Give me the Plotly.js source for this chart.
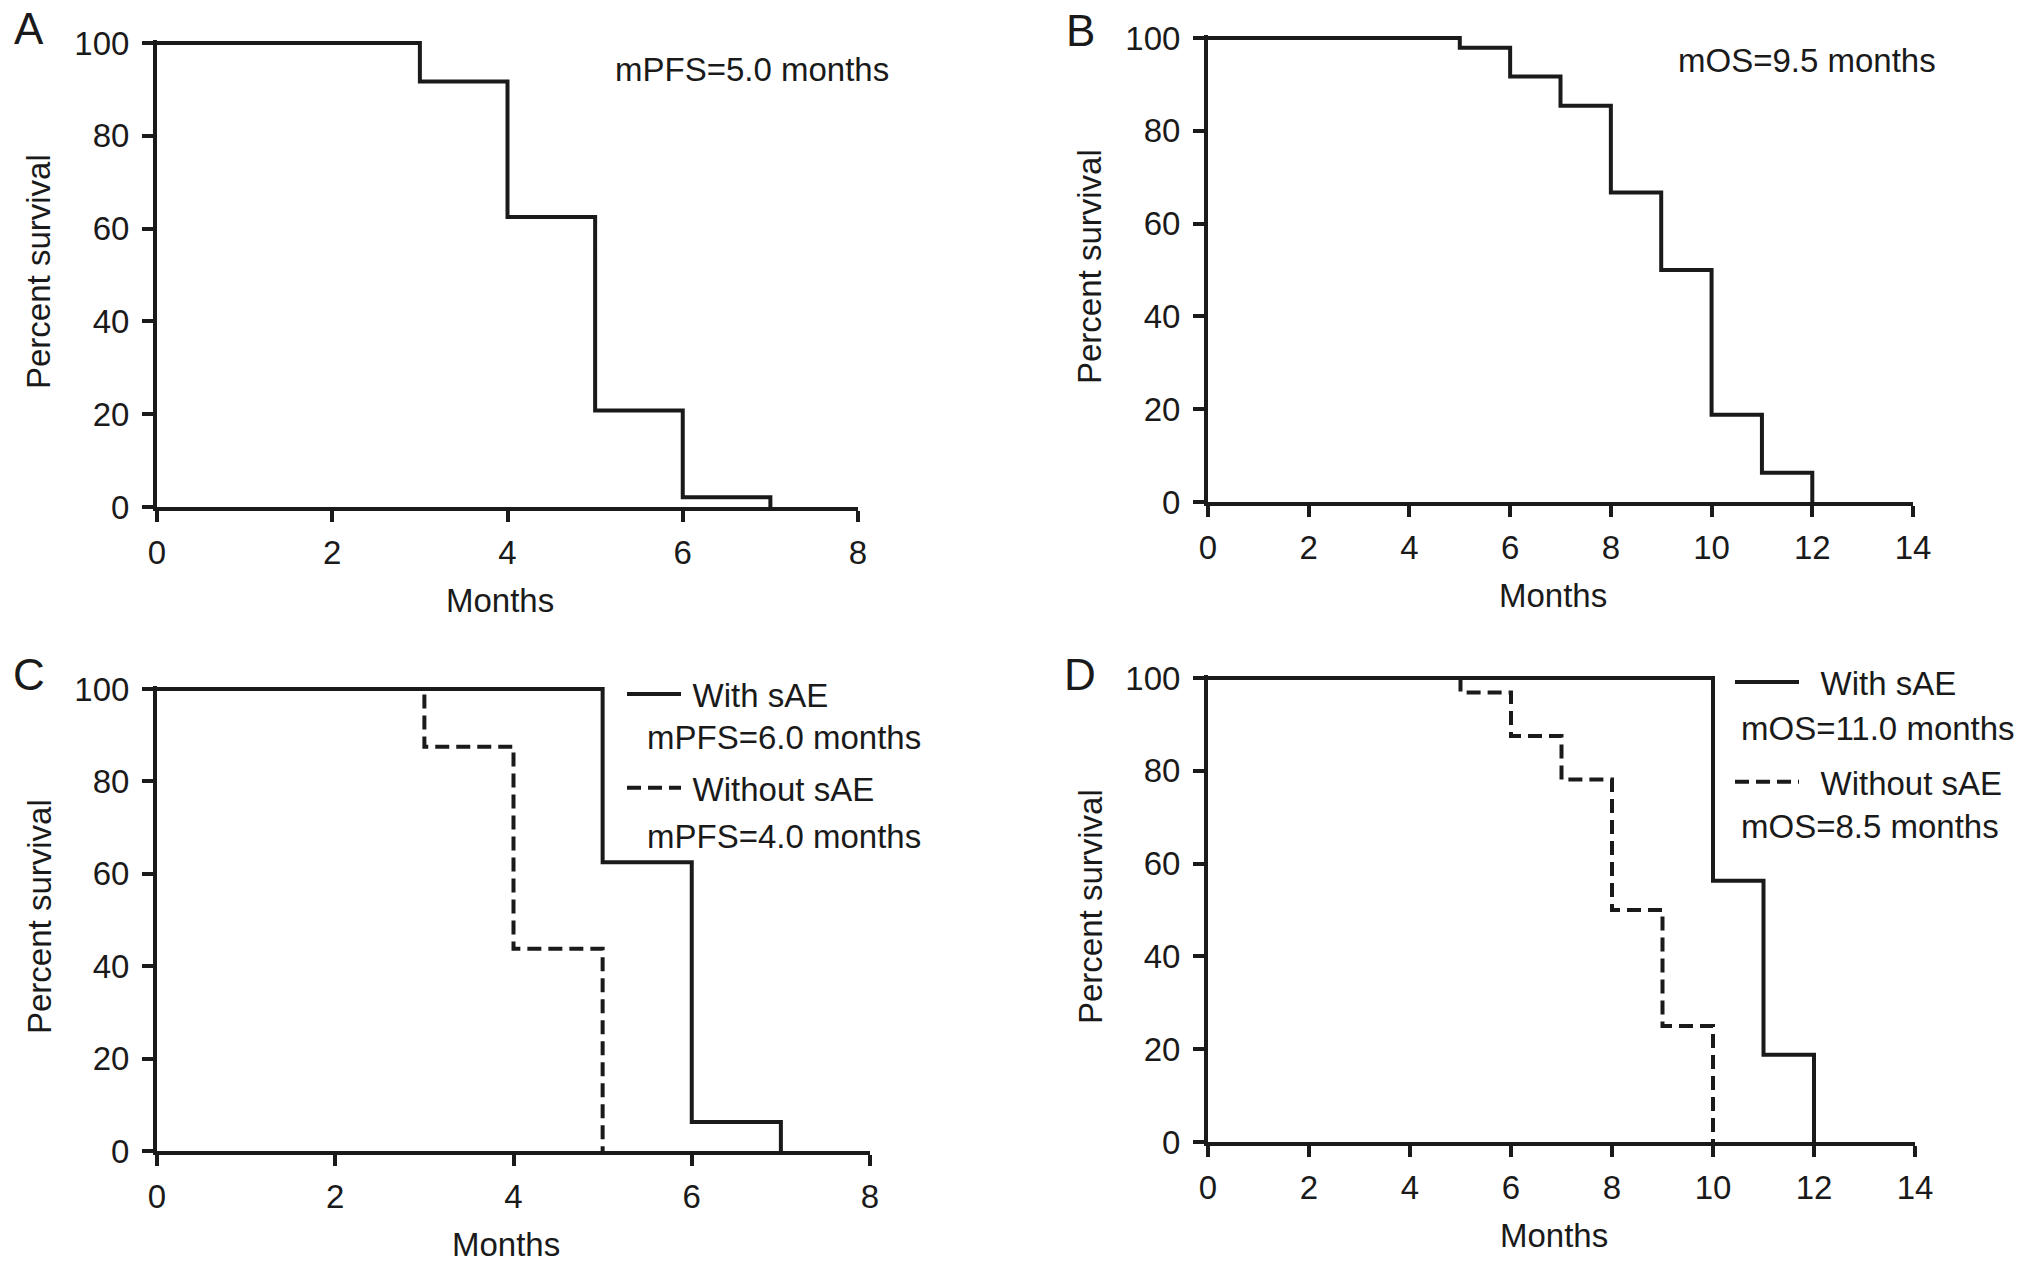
<!DOCTYPE html>
<html>
<head>
<meta charset="utf-8">
<script src="https://cdn.plot.ly/plotly-3.0.1.min.js"></script>
<style>
html, body { margin: 0; padding: 0; background: #fff; }
#chart { width: 2032px; height: 1269px; }
</style>
</head>
<body>
<div id="chart"></div>
<script>
// A: progression-free survival, all patients
let pfs_months = [0, 3, 4, 5, 6, 7];
let pfs_percent = [100, 91.7, 62.5, 20.8, 2.1, 0];
// B: overall survival, all patients
let os_months = [0, 5, 6, 7, 8, 9, 10, 11, 12];
let os_percent = [100, 97.9, 91.7, 85.4, 66.7, 50, 18.8, 6.3, 0];
// C: PFS by severe adverse events
let pfs_sae_months = [0, 5, 6, 7];
let pfs_sae_percent = [100, 62.5, 6.3, 0];
let pfs_nosae_months = [0, 3, 4, 5];
let pfs_nosae_percent = [100, 87.5, 43.8, 0];
// D: OS by severe adverse events
let os_sae_months = [0, 10, 11, 12];
let os_sae_percent = [100, 56.3, 18.8, 0];
let os_nosae_months = [0, 5, 6, 7, 8, 9, 10];
let os_nosae_percent = [100, 96.9, 87.5, 78.1, 50, 25, 0];

let panel_letters = ["A", "B", "C", "D"];
let month_max = [8, 14, 8, 14];
let median_all = ["mPFS=5.0 months", "mOS=9.5 months"];
let group_names = ["With sAE", "Without sAE"];
let pfs_group_medians = ["mPFS=6.0 months", "mPFS=4.0 months"];
let os_group_medians = ["mOS=11.0 months", "mOS=8.5 months"];

var W = 2032, H = 1269;
var ink = "#1a1a1a";
var font = "Liberation Sans, Arial, sans-serif";
var fs = 33;
var ytop = 100.6;

function px(x) { return x / W; }
function py(y) { return 1 - y / H; }

// pixel box of each panel: x of month 0, x of last month, y of 0 %, y of 100 %, letter row
var boxes = [
    {x0: 157, x1: 858, y0: 507, y100: 43, ly: 28},
    {x0: 1208, x1: 1913, y0: 502, y100: 38, ly: 30},
    {x0: 157, x1: 870, y0: 1151, y100: 689, ly: 674},
    {x0: 1208, x1: 1915, y0: 1142, y100: 678, ly: 674}
];

function stepTrace(x, y, n, dashed, name, legend) {
    return {
        type: "scatter",
        mode: "lines",
        x: x, y: y,
        xaxis: n == 1 ? "x" : "x" + n,
        yaxis: n == 1 ? "y" : "y" + n,
        line: {shape: "hv", color: ink, width: 4, dash: dashed ? "14px,7px" : "solid"},
        name: name || "",
        showlegend: !!name,
        legend: legend,
        legendgroup: name ? legend + name : undefined,
        hoverinfo: "x+y"
    };
}

var data = [
    stepTrace(pfs_months, pfs_percent, 1, false),
    stepTrace(os_months, os_percent, 2, false),
    stepTrace(pfs_sae_months, pfs_sae_percent, 3, false, "\u2009" + group_names[0], "legend"),
    stepTrace(pfs_nosae_months, pfs_nosae_percent, 3, true, "\u2009" + group_names[1], "legend"),
    stepTrace(os_sae_months, os_sae_percent, 4, false, "\u2002" + group_names[0], "legend2"),
    stepTrace(os_nosae_months, os_nosae_percent, 4, true, "\u2002" + group_names[1], "legend2")
];

var layout = {
    width: W, height: H,
    margin: {l: 0, r: 0, t: 0, b: 0},
    paper_bgcolor: "#fff",
    plot_bgcolor: "rgba(0,0,0,0)",
    font: {family: font, size: fs, color: ink},
    annotations: [],
    legend: {
        x: px(622), y: py(666), xanchor: "left", yanchor: "top",
        bgcolor: "rgba(0,0,0,0)", tracegroupgap: 48, itemwidth: 54,
        font: {family: font, size: fs, color: ink}
    },
    legend2: {
        x: px(1730), y: py(654), xanchor: "left", yanchor: "top",
        bgcolor: "rgba(0,0,0,0)", tracegroupgap: 54, itemwidth: 64,
        font: {family: font, size: fs, color: ink}
    }
};

boxes.forEach(function (b, i) {
    var n = i + 1;
    var sfx = n == 1 ? "" : String(n);
    var unit = (b.y0 - b.y100) / 100;
    var topPx = b.y100 - (ytop - 100) * unit;
    layout["xaxis" + sfx] = {
        domain: [px(b.x0), px(b.x1)],
        anchor: "y" + sfx,
        range: [0, month_max[i]],
        dtick: 2,
        showline: true, linewidth: 4, linecolor: ink,
        ticks: "outside", ticklen: 11, tickwidth: 4, tickcolor: ink,
        ticklabelstandoff: 2,
        showgrid: false, zeroline: false, fixedrange: true,
        tickfont: {family: font, size: fs, color: ink}
    };
    layout["yaxis" + sfx] = {
        domain: [py(b.y0), py(topPx)],
        anchor: "x" + sfx,
        range: [0, ytop],
        tickvals: [0, 20, 40, 60, 80, 100],
        showline: true, linewidth: 4, linecolor: ink,
        ticks: "outside", ticklen: 11, tickwidth: 4, tickcolor: ink,
        ticklabelstandoff: 6,
        showgrid: false, zeroline: false, fixedrange: true,
        tickfont: {family: font, size: fs, color: ink}
    };
    // panel letter
    layout.annotations.push({
        text: panel_letters[i], xref: "paper", yref: "paper",
        x: px(b.x0 - 128), y: py(b.ly), xanchor: "center", yanchor: "middle",
        showarrow: false, font: {family: font, size: 44, color: ink}
    });
    // axis titles
    layout.annotations.push({
        text: "Months", xref: "paper", yref: "paper",
        x: px((b.x0 + b.x1) / 2 - 8), y: py(b.y0 + 93), xanchor: "center", yanchor: "middle",
        showarrow: false, font: {family: font, size: fs, color: ink}
    });
    layout.annotations.push({
        text: "Percent survival", xref: "paper", yref: "paper", textangle: -90,
        x: px(b.x0 - 118), y: py((b.y0 + b.y100) / 2 - 3), xanchor: "center", yanchor: "middle",
        showarrow: false, font: {family: font, size: fs, color: ink}
    });
});

// medians for panels A and B
layout.annotations.push({
    text: median_all[0], xref: "paper", yref: "paper",
    x: px(613), y: py(70), xanchor: "left", yanchor: "middle",
    showarrow: false, font: {family: font, size: fs, color: ink}
});
layout.annotations.push({
    text: median_all[1], xref: "paper", yref: "paper",
    x: px(1676), y: py(61), xanchor: "left", yanchor: "middle",
    showarrow: false, font: {family: font, size: fs, color: ink}
});
// medians under the legend entries of C and D
[738, 837].forEach(function (y, k) {
    layout.annotations.push({
        text: pfs_group_medians[k], xref: "paper", yref: "paper",
        x: px(645), y: py(y), xanchor: "left", yanchor: "middle",
        showarrow: false, font: {family: font, size: fs, color: ink}
    });
});
[728, 826].forEach(function (y, k) {
    layout.annotations.push({
        text: os_group_medians[k], xref: "paper", yref: "paper",
        x: px(1739), y: py(y), xanchor: "left", yanchor: "middle",
        showarrow: false, font: {family: font, size: fs, color: ink}
    });
});

Plotly.newPlot("chart", data, layout, {displayModeBar: false, staticPlot: true});
</script>
</body>
</html>
